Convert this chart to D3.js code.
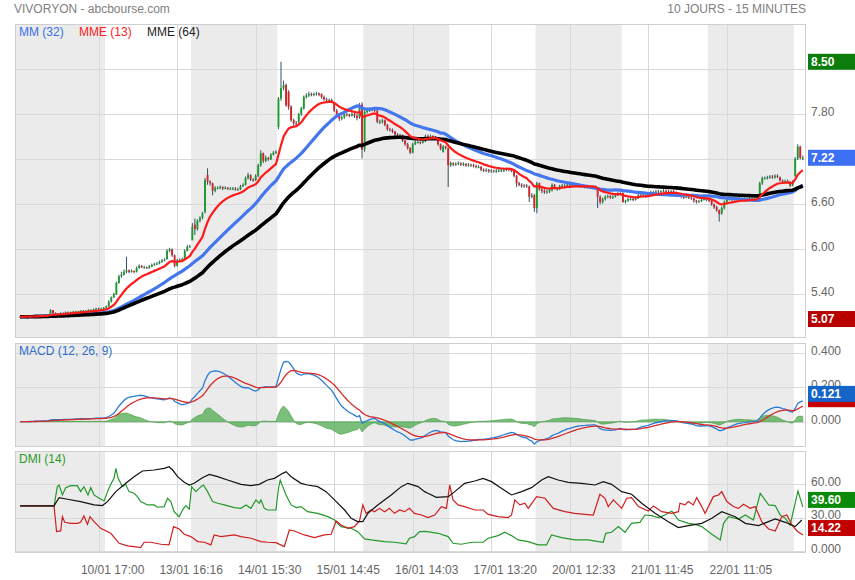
<!DOCTYPE html>
<html><head><meta charset="utf-8">
<script src="https://cdn.jsdelivr.net/npm/d3@7"></script>
<style>body{margin:0;background:#fff;}svg{display:block;font-family:"Liberation Sans",Arial,sans-serif;}</style>
</head><body><svg id="c" width="855" height="580"></svg>
<script>
// ---------- DATA ----------
const opens = [
5.10,5.10,5.10,5.11,5.10,5.11,5.11,5.12,5.11,5.12,5.12,5.12,5.12,5.19,5.15,5.14,5.14,5.15,5.15,5.16,5.16,5.16,5.17,5.17,5.17,5.18,5.18,5.18,5.19,5.19,5.20,5.21,5.20,5.21,
5.22,5.24,5.30,5.36,5.40,5.55,5.64,5.66,5.70,5.72,5.70,5.71,5.70,5.75,5.78,5.76,5.76,5.75,5.77,5.79,5.80,5.81,5.83,5.85,5.87,5.98,6.00,5.92,5.78,5.85,5.86,5.88,5.98,6.03,
6.12,6.33,6.27,6.38,6.42,6.50,6.99,6.90,6.88,6.78,6.82,6.82,6.83,6.81,6.82,6.81,6.81,6.81,6.80,6.80,6.84,6.86,6.95,6.99,6.93,6.92,6.98,7.12,7.28,7.18,7.22,7.20,7.26,7.29,
7.63,8.01,8.15,8.19,8.10,7.90,7.72,7.68,7.70,7.80,7.88,8.03,8.05,8.07,8.06,8.07,8.08,8.07,8.03,8.00,7.99,7.99,7.95,7.85,7.80,7.74,7.76,7.80,7.79,7.78,7.80,7.78,7.76,7.93,
7.33,7.83,7.85,7.86,7.87,7.85,7.70,7.70,7.72,7.66,7.60,7.59,7.57,7.53,7.52,7.52,7.45,7.40,7.35,7.29,7.40,7.43,7.43,7.42,7.44,7.51,7.50,7.51,7.50,7.48,7.40,7.30,7.37,7.35,
7.12,7.15,7.13,7.14,7.15,7.13,7.14,7.12,7.13,7.12,7.11,7.10,7.10,7.06,7.05,7.06,7.04,7.05,7.04,7.05,7.05,7.05,7.06,7.07,7.06,7.05,6.98,6.88,6.86,6.84,6.85,6.84,6.70,6.72,
6.55,6.88,6.80,6.78,6.76,6.77,6.79,6.86,6.82,6.80,6.84,6.85,6.85,6.86,6.84,6.85,6.86,6.85,6.84,6.84,6.83,6.84,6.83,6.83,6.82,6.70,6.63,6.67,6.70,6.71,6.69,6.70,6.72,6.74,
6.75,6.63,6.65,6.67,6.67,6.66,6.68,6.72,6.73,6.72,6.71,6.73,6.76,6.76,6.77,6.76,6.77,6.78,6.77,6.76,6.77,6.76,6.74,6.72,6.70,6.69,6.70,6.69,6.68,6.65,6.63,6.64,6.66,6.67,
6.66,6.65,6.60,6.56,6.52,6.48,6.55,6.63,6.66,6.67,6.66,6.67,6.68,6.67,6.67,6.66,6.67,6.68,6.67,6.68,6.68,6.88,6.95,6.95,6.96,6.97,6.96,6.98,6.96,6.92,6.90,6.91,6.90,6.85,
6.98,7.21,7.37,7.22];
const highs = [
5.11,5.11,5.12,5.12,5.12,5.12,5.13,5.13,5.13,5.13,5.13,5.13,5.20,5.19,5.16,5.15,5.16,5.16,5.17,5.17,5.17,5.18,5.18,5.18,5.19,5.19,5.19,5.20,5.20,5.21,5.22,5.22,5.22,5.23,
5.25,5.32,5.37,5.42,5.57,5.66,5.70,5.73,5.90,5.73,5.73,5.72,5.77,5.80,5.79,5.78,5.77,5.79,5.81,5.82,5.83,5.85,5.87,5.88,6.00,6.02,6.01,5.93,5.87,5.88,5.89,6.00,6.06,6.06,
6.35,6.41,6.40,6.44,6.50,6.95,7.08,6.92,6.89,6.84,6.84,6.85,6.84,6.84,6.83,6.83,6.83,6.83,6.82,6.86,6.88,6.97,7.02,7.00,6.95,7.00,7.14,7.32,7.29,7.25,7.23,7.28,7.31,7.32,
8.03,8.50,8.25,8.21,8.12,7.92,7.74,7.71,7.82,7.90,8.05,8.08,8.10,8.09,8.09,8.10,8.09,8.08,8.05,8.02,8.01,8.01,7.96,7.87,7.82,7.78,7.83,7.82,7.81,7.83,7.82,7.80,7.95,7.96,
7.85,7.88,7.89,7.89,7.88,7.86,7.73,7.74,7.73,7.67,7.62,7.61,7.58,7.55,7.54,7.53,7.46,7.42,7.36,7.42,7.45,7.45,7.44,7.46,7.53,7.53,7.53,7.52,7.51,7.49,7.41,7.39,7.38,7.36,
7.17,7.16,7.16,7.17,7.16,7.16,7.15,7.15,7.14,7.14,7.13,7.12,7.11,7.08,7.08,7.07,7.07,7.06,7.07,7.07,7.07,7.08,7.09,7.09,7.08,7.06,6.99,6.90,6.88,6.87,6.87,6.85,6.75,6.74,
6.90,6.89,6.82,6.80,6.79,6.81,6.88,6.87,6.83,6.86,6.87,6.87,6.88,6.87,6.87,6.88,6.87,6.86,6.86,6.85,6.86,6.85,6.85,6.85,6.83,6.72,6.69,6.72,6.73,6.72,6.72,6.74,6.76,6.76,
6.76,6.66,6.69,6.69,6.69,6.70,6.74,6.75,6.75,6.73,6.75,6.78,6.78,6.79,6.79,6.79,6.80,6.80,6.79,6.79,6.79,6.77,6.75,6.73,6.72,6.72,6.72,6.71,6.69,6.66,6.66,6.68,6.69,6.69,
6.68,6.66,6.61,6.58,6.53,6.57,6.65,6.68,6.69,6.69,6.69,6.70,6.70,6.69,6.69,6.69,6.70,6.70,6.70,6.72,6.90,6.97,6.97,6.98,6.99,6.99,7.00,7.00,6.97,6.93,6.93,6.93,6.91,6.92,
7.23,7.40,7.38,7.25];
const lows = [
5.09,5.09,5.10,5.07,5.09,5.10,5.10,5.10,5.10,5.11,5.11,5.11,5.11,5.14,5.13,5.13,5.13,5.14,5.14,5.15,5.15,5.15,5.16,5.16,5.16,5.17,5.17,5.17,5.18,5.18,5.19,5.19,5.19,5.20,
5.21,5.23,5.29,5.35,5.39,5.54,5.62,5.65,5.68,5.68,5.69,5.68,5.69,5.74,5.75,5.74,5.74,5.74,5.76,5.78,5.79,5.80,5.82,5.84,5.86,5.96,5.90,5.76,5.77,5.84,5.85,5.87,5.97,6.02,
6.12,6.19,6.25,6.36,6.40,6.48,6.86,6.85,6.72,6.76,6.80,6.80,6.79,6.80,6.79,6.79,6.79,6.78,6.78,6.79,6.83,6.85,6.93,6.91,6.90,6.91,6.96,7.10,7.15,7.16,7.18,7.19,7.25,7.27,
7.60,7.98,8.12,7.90,7.86,7.70,7.64,7.64,7.68,7.78,7.86,8.01,8.03,8.04,8.04,8.05,8.04,8.01,7.98,7.97,7.97,7.96,7.83,7.77,7.71,7.72,7.74,7.77,7.76,7.77,7.75,7.72,7.74,7.21,
7.30,7.81,7.83,7.84,7.83,7.68,7.67,7.68,7.64,7.58,7.57,7.55,7.51,7.50,7.49,7.43,7.38,7.33,7.27,7.28,7.39,7.41,7.40,7.41,7.43,7.48,7.49,7.48,7.47,7.38,7.32,7.29,7.33,6.83,
7.10,7.11,7.11,7.12,7.11,7.11,7.10,7.10,7.10,7.09,7.08,7.08,7.04,7.03,7.03,7.02,7.02,7.02,7.02,7.03,7.03,7.03,7.04,7.04,7.03,6.96,6.83,6.84,6.82,6.82,6.82,6.63,6.68,6.50,
6.48,6.78,6.75,6.74,6.74,6.75,6.77,6.80,6.78,6.79,6.83,6.83,6.83,6.82,6.83,6.83,6.83,6.82,6.82,6.81,6.81,6.81,6.81,6.80,6.55,6.60,6.61,6.65,6.68,6.67,6.67,6.69,6.71,6.72,
6.62,6.61,6.63,6.65,6.64,6.65,6.67,6.71,6.70,6.69,6.70,6.72,6.74,6.75,6.74,6.75,6.76,6.75,6.74,6.75,6.74,6.72,6.70,6.68,6.67,6.68,6.67,6.66,6.62,6.61,6.62,6.63,6.65,6.64,
6.63,6.58,6.54,6.50,6.37,6.46,6.53,6.62,6.65,6.64,6.65,6.66,6.65,6.65,6.64,6.65,6.66,6.65,6.66,6.66,6.66,6.86,6.93,6.93,6.94,6.94,6.94,6.95,6.90,6.88,6.89,6.88,6.83,6.84,
6.96,7.19,7.20,7.19];
const closes = [
5.10,5.10,5.11,5.10,5.11,5.11,5.12,5.11,5.12,5.12,5.12,5.12,5.19,5.15,5.14,5.14,5.15,5.15,5.16,5.16,5.16,5.17,5.17,5.17,5.18,5.18,5.18,5.19,5.19,5.20,5.21,5.20,5.21,5.22,
5.24,5.30,5.36,5.40,5.55,5.64,5.66,5.70,5.72,5.70,5.71,5.70,5.75,5.78,5.76,5.76,5.75,5.77,5.79,5.80,5.81,5.83,5.85,5.86,5.98,6.00,5.92,5.78,5.85,5.86,5.87,5.98,6.03,6.04,
6.30,6.27,6.38,6.42,6.48,6.92,6.90,6.88,6.78,6.82,6.82,6.83,6.81,6.82,6.81,6.81,6.81,6.80,6.80,6.84,6.86,6.95,6.99,6.93,6.92,6.98,7.12,7.28,7.18,7.22,7.20,7.26,7.29,7.30,
8.01,8.15,8.19,7.92,7.90,7.72,7.68,7.67,7.80,7.88,8.03,8.05,8.07,8.06,8.07,8.08,8.06,8.03,8.00,7.99,7.99,7.98,7.85,7.80,7.74,7.76,7.80,7.79,7.78,7.80,7.78,7.75,7.92,7.33,
7.83,7.85,7.86,7.87,7.85,7.70,7.70,7.72,7.66,7.60,7.59,7.57,7.53,7.52,7.52,7.45,7.40,7.35,7.29,7.40,7.43,7.43,7.42,7.44,7.51,7.50,7.51,7.50,7.49,7.40,7.34,7.37,7.35,7.12,
7.15,7.13,7.14,7.15,7.13,7.14,7.12,7.13,7.12,7.11,7.10,7.10,7.06,7.05,7.06,7.04,7.05,7.04,7.05,7.05,7.05,7.06,7.07,7.06,7.05,6.98,6.88,6.86,6.84,6.85,6.84,6.70,6.72,6.55,
6.88,6.80,6.78,6.76,6.77,6.79,6.86,6.82,6.80,6.84,6.85,6.85,6.86,6.84,6.85,6.86,6.85,6.84,6.84,6.83,6.84,6.83,6.83,6.82,6.70,6.63,6.67,6.70,6.71,6.69,6.70,6.72,6.74,6.74,
6.63,6.65,6.67,6.67,6.66,6.68,6.72,6.73,6.72,6.71,6.73,6.76,6.76,6.77,6.76,6.77,6.78,6.77,6.76,6.77,6.76,6.74,6.72,6.70,6.69,6.70,6.69,6.68,6.65,6.63,6.64,6.66,6.67,6.66,
6.65,6.60,6.56,6.52,6.47,6.55,6.63,6.66,6.67,6.66,6.67,6.68,6.67,6.67,6.66,6.67,6.68,6.67,6.68,6.70,6.88,6.95,6.95,6.96,6.97,6.96,6.98,6.97,6.92,6.90,6.91,6.90,6.85,6.90,
7.21,7.37,7.22,7.22];

// first bar index of each trading day
const dayStarts = [0,34,68,102,136,170,204,238,272,306];
// time axis
const timeTickIdx = [31,62,93,124,155,186,217,248,279];
const timeTickLabels = ["10/01 17:00","13/01 16:16","14/01 15:30","15/01 14:45","16/01 14:03","17/01 13:20","20/01 12:33","21/01 11:45","22/01 11:05"];
// value axes (grid values, and the ones whose label is not covered by a badge)
const priceGrid = [5.4,6.0,6.6,7.2,7.8,8.4];
const priceLabels = [5.4,6.0,6.6,7.8];
const macdTicks = [0,0.2,0.4];
const dmiTicks = [0,30,60];
const dmiTickLabels = ["0.000","30.00","60.00"];

// DMI(14): [bar index, value]
const dmiPlus = [[0,40.5],[13.4,40.5],[14.7,57.9],[15.4,59.4],[16.7,50.4],[18,57],[20,58.8],[22.6,58.8],[23.9,53.4],[25.2,57.9],[26.8,50.4],[27.9,57],[29.2,50.4],[31.2,47.4],[33.2,45],[34.5,53.4],[35.8,60],[37.1,65.4],[37.8,74.4],[38.7,65.4],[40.4,57.9],[41.7,60],[43,53.4],[45,51.9],[46.3,48.9],[47.6,44.4],[50.3,41.4],[52.9,41.4],[54.2,39.3],[56.9,39.9],[58.2,47.4],[59.5,44.4],[60.8,35.3],[62.8,30.8],[64.1,36.8],[65.4,40.8],[66.8,37.5],[67.7,57.9],[69.4,53.4],[71.4,57.9],[72.4,59.4],[74,53.4],[76,44.4],[78,42.9],[80.6,41.4],[84.6,39],[87.2,38.3],[89.2,41.4],[91.1,38.3],[93.1,45.9],[94.4,42.9],[95.1,45.9],[96.4,38.3],[97.7,36.8],[101,36.8],[102,56.4],[102.7,63.9],[103.7,57.9],[105,50.4],[107,41.4],[109,39],[110.9,39.9],[113.5,35.3],[117.5,33.8],[121.5,30.8],[124.1,27.8],[126.7,21.8],[130.7,20.3],[133.3,17.3],[136,10.7],[138.6,9.8],[143.9,8.3],[147.8,7.7],[152.4,6.2],[153.7,11.3],[155.7,12.8],[157.7,17.3],[160,17.5],[165,15.8],[169,12.8],[170.9,6.8],[174.2,5.9],[178.2,7.7],[182.8,7.7],[184.8,11.3],[188.7,13.7],[191.4,16.7],[194,13.7],[196.6,9.8],[200.6,8.3],[204.5,5.3],[207.8,5.3],[209.8,14.3],[213.8,11.9],[219,9.8],[224.3,9.8],[228.3,8.3],[230.2,7.7],[231.2,15.8],[233.5,16.7],[236.2,21.8],[238.8,16.7],[241.4,24.8],[244.7,25.7],[246.7,32.3],[249.3,31.7],[252,29.9],[254.6,32.3],[257.3,35.9],[259.9,27.8],[263.8,24.8],[266.5,23.9],[269.1,21.8],[273.1,14.9],[276.4,9.8],[277.7,24.8],[279.7,30.8],[283.6,28.7],[286.3,32.3],[289.5,27.8],[292.2,51.9],[295.5,41.4],[298.1,40.8],[300.1,32.3],[302.1,29.3],[304,23.3],[307.1,54],[309,39.6]];
const dmiMinus = [[0,40.5],[13.4,40.5],[14.4,17.3],[16,17.9],[16.7,30.8],[17.6,25.7],[20,24.8],[22.6,24.8],[23.9,25.7],[25.2,31.4],[26.6,23.9],[27.6,30.8],[29.2,26.3],[31.8,20.3],[35.8,15.8],[39.1,6.8],[42.4,4.4],[45,3.8],[47.6,2.9],[49,7.7],[51.6,7.7],[55.6,5.9],[58.8,5.3],[60.6,21.8],[62.8,19.7],[64.8,14.9],[67.4,12.8],[70.1,8.3],[72.7,7.7],[75.3,5.3],[76.6,14.3],[79.3,12.8],[84.6,14.3],[87.2,12.8],[91.1,11.3],[95.1,8.3],[97.7,7.7],[101,7.4],[104.3,3.8],[106.3,18.8],[108.3,17.9],[112.2,14.3],[116.2,11.9],[120.1,14.3],[122.8,14.9],[124.8,26.9],[126.7,23.3],[129.4,20.3],[132,21.8],[134,26.9],[135.3,41.4],[136.6,33.8],[138.6,36.8],[139.9,35.3],[141.9,38.3],[143.9,35.3],[145.8,38.3],[147.8,33.8],[149.8,36.8],[151.8,35.3],[153.7,38.3],[155.7,33.8],[158.4,32.3],[161,29.9],[163.7,32.3],[166.3,39.9],[168.3,38.3],[169.6,59.4],[170.9,45.9],[172.9,41.4],[175.5,39.9],[179.5,36.8],[182.8,36.8],[184.8,32.9],[188.7,30.8],[192.7,29.9],[194,32.3],[195.3,45.9],[197.3,41.4],[199.3,42.9],[200.6,38.3],[203.9,48.9],[207.2,47.4],[210.5,38.3],[215.1,35.3],[219,33.8],[223,32.9],[226.3,32.3],[228.9,51],[230.9,47.4],[232.2,39.9],[234.2,45.9],[237.5,38.3],[239.5,47.4],[241.4,48],[244.1,39.9],[248,35.9],[250,40.5],[253.3,35.3],[257.3,33.8],[259.9,35.3],[260.5,42.9],[262.5,41.4],[263.8,44.4],[265.8,41.4],[267.1,48],[269.1,39.9],[270.4,33.8],[273.7,48.9],[275.7,50.4],[277,53.4],[279,44.4],[281.6,39.9],[283.6,38.3],[285.6,42],[288.2,38.3],[290.2,39.9],[292.8,26.3],[295.5,19.7],[298.1,17.9],[300.7,30.8],[302.7,32.3],[304.7,23.3],[306.7,17.9],[309,14.22]];
const dmiAdx = [[0,40.5],[13.4,40.5],[15.4,48],[18.7,46.5],[23.9,44.4],[29.2,41.4],[32.5,40.8],[34.5,44.4],[37.8,53.4],[41.7,60.9],[45,66.9],[48.3,72],[52.9,72.9],[56.9,74.4],[58.8,75.9],[60.2,72.9],[62.2,66.9],[64.8,61.8],[66.8,59.4],[68.7,60.9],[72,66],[74.7,69],[78,66.9],[81.9,63.9],[87.2,60],[91.1,58.8],[94.4,60],[97.7,63.9],[100.4,65.4],[103.7,69.9],[105,71.4],[107,66.9],[110.9,60.9],[113.5,59.4],[117.5,57.9],[120.8,53.4],[124.1,45.9],[128.1,36.8],[130.7,29.3],[133.3,26.3],[135.3,26.3],[137.3,33.8],[141.2,41.4],[146.5,50.4],[150.5,57.9],[153.1,60.9],[157.1,57.9],[159.7,53.4],[161,51.9],[164.3,48.3],[169,48.9],[171.6,53.4],[175.5,60.9],[179.5,63],[182.8,65.4],[186.1,62.4],[190,56.4],[194,50.4],[198,53.4],[201.9,57],[205.9,63.9],[208.5,66.9],[212.4,63.9],[216.4,61.8],[221.7,60.9],[227,59.4],[230.2,62.4],[233.5,60],[237.5,53.4],[241.4,51],[245.4,42.9],[250.7,33.8],[255.9,26.3],[259.9,20.9],[263.8,22.7],[269.1,24.8],[273.1,29.3],[277,35.3],[282.3,30.8],[286.3,24.8],[291.5,22.7],[298.1,28.7],[302.1,25.7],[306,21.8],[308.6,27.8]];

// ---------- INDICATORS (derived from closes) ----------
function ema(arr, n){ const a=2/(n+1); const out=[]; arr.forEach((v,i)=>out.push(i===0?v:a*v+(1-a)*out[i-1])); return out; }
function sma(arr, n){ return arr.map((v,i)=>d3.mean(arr.slice(Math.max(0,i-n+1), i+1))); }
const mm32 = sma(closes,32), mme13 = ema(closes,13), mme64 = ema(closes,64);
const e12 = ema(closes,12), e26 = ema(closes,26);
const macd = e12.map((v,i)=>v-e26[i]);
const signal = ema(macd,9);
const hist = macd.map((v,i)=>v-signal[i]);

// ---------- LAYOUT ----------
const svg = d3.select("#c");
const L=15, R=806;
const P = {main:[24,338], macd:[343,447], dmi:[451,553]};
const n = closes.length;
const x = d3.scaleLinear().domain([0,n-1]).range([20.1,802.8]);
const yMain = d3.scaleLinear().domain([4.817,9.004]).range([P.main[1],P.main[0]]);
const yMacd = d3.scaleLinear().domain([-0.147,0.4576]).range([P.macd[1],P.macd[0]]);
const yDmi = d3.scaleLinear().domain([-1.99,90.07]).range([P.dmi[1],P.dmi[0]]);

const defs = svg.append("defs");
Object.entries(P).forEach(([k,[t,b]])=>{
  defs.append("clipPath").attr("id","clip-"+k).append("rect").attr("x",L).attr("y",t).attr("width",R-L).attr("height",b-t);
});

function panel(key, yScale, ticks){
  const [t,b]=P[key];
  const g = svg.append("g");
  g.append("rect").attr("x",L).attr("y",t).attr("width",R-L).attr("height",b-t).attr("fill","#fff");
  const bands = g.append("g");
  dayStarts.forEach((s,d)=>{
    if(d%2!==0) return;
    const end = d+1<dayStarts.length ? dayStarts[d+1] : n;
    const x0 = d===0 ? L : x(s-0.5), x1 = Math.min(R, x(end-0.5));
    bands.append("rect").attr("x",x0).attr("y",t).attr("width",x1-x0).attr("height",b-t).attr("fill","#ebebeb");
  });
  g.selectAll("line.h").data(ticks).join("line").attr("x1",L).attr("x2",R)
    .attr("y1",d=>Math.round(yScale(d))+0.5).attr("y2",d=>Math.round(yScale(d))+0.5).attr("stroke","#d9d9d9");
  g.selectAll("line.v").data(timeTickIdx).join("line").attr("y1",t).attr("y2",b)
    .attr("x1",d=>Math.round(x(d))+0.5).attr("x2",d=>Math.round(x(d))+0.5).attr("stroke","#d9d9d9");
  g.append("rect").attr("x",L+0.5).attr("y",t+0.5).attr("width",R-L-1).attr("height",b-t-1)
    .attr("fill","none").attr("stroke","#cfcfcf");
  return svg.append("g").attr("clip-path","url(#clip-"+key+")");
}

// ---------- MAIN PANEL ----------
const gm = panel("main", yMain, priceGrid);
const idx = d3.range(n);
gm.selectAll("line.wick").data(idx).join("line")
  .attr("x1",i=>x(i)).attr("x2",i=>x(i)).attr("y1",i=>yMain(highs[i])).attr("y2",i=>yMain(lows[i]))
  .attr("stroke","#1f3d50").attr("stroke-width",0.9);
gm.selectAll("rect.body").data(idx).join("rect")
  .attr("x",i=>x(i)-0.95).attr("width",1.9)
  .attr("y",i=>yMain(Math.max(opens[i],closes[i])))
  .attr("height",i=>Math.max(1,Math.abs(yMain(opens[i])-yMain(closes[i]))))
  .attr("fill",i=>closes[i]>=opens[i]?"#1c9a2e":"#d3232b");
const lineP = d3.line().x((d,i)=>x(i)).y(d=>yMain(d));
gm.append("path").attr("d",lineP(mm32)).attr("fill","none").attr("stroke","#4477ee").attr("stroke-width",3.2).attr("stroke-linejoin","round");
gm.append("path").attr("d",lineP(mme64)).attr("fill","none").attr("stroke","#000").attr("stroke-width",3.6).attr("stroke-linejoin","round");
gm.append("path").attr("d",lineP(mme13)).attr("fill","none").attr("stroke","#ff1a1a").attr("stroke-width",2.2).attr("stroke-linejoin","round");

// ---------- MACD PANEL ----------
const gc = panel("macd", yMacd, macdTicks);
gc.append("path").attr("d", d3.area().x((d,i)=>x(i)).y0(yMacd(0)).y1(d=>yMacd(d))(hist))
  .attr("fill","#4ea94e").attr("fill-opacity",0.75).attr("stroke","#3f9b3f").attr("stroke-width",0.6);
const lineC = d3.line().x((d,i)=>x(i)).y(d=>yMacd(d));
gc.append("path").attr("d",lineC(macd)).attr("fill","none").attr("stroke","#2b7bd6").attr("stroke-width",1.3);
gc.append("path").attr("d",lineC(signal)).attr("fill","none").attr("stroke","#d42b2b").attr("stroke-width",1.3);

// ---------- DMI PANEL ----------
const gd = panel("dmi", yDmi, dmiTicks);
const lineD = d3.line().x(d=>x(d[0])).y(d=>yDmi(d[1]));
gd.append("path").attr("d",lineD(dmiPlus)).attr("fill","none").attr("stroke","#23992a").attr("stroke-width",1.2);
gd.append("path").attr("d",lineD(dmiMinus)).attr("fill","none").attr("stroke","#d01f1f").attr("stroke-width",1.2);
gd.append("path").attr("d",lineD(dmiAdx)).attr("fill","none").attr("stroke","#111").attr("stroke-width",1.2);

// ---------- AXES ----------
function yAxis(scale, ticks, fmt){
  const g = svg.append("g").attr("transform",`translate(${R},0)`)
    .call(d3.axisRight(scale).tickValues(ticks).tickFormat(fmt).tickSize(0).tickPadding(5));
  g.select(".domain").remove();
  g.selectAll("text").attr("y",-2.5).attr("fill","#666").style("font-size","12px").style("font-family","'Liberation Sans',Arial,sans-serif");
}
yAxis(yMain, priceLabels, d3.format(".2f"));
yAxis(yMacd, macdTicks, d3.format(".3f"));
yAxis(yDmi, dmiTicks, (d,i)=>dmiTickLabels[i]);

const xa = svg.append("g").attr("transform",`translate(0,${P.dmi[1]})`)
  .call(d3.axisBottom(x).tickValues(timeTickIdx).tickFormat((d,i)=>timeTickLabels[i]).tickSize(0).tickPadding(12.5));
xa.select(".domain").remove();
xa.selectAll("text").attr("x",13.5).attr("fill","#666").style("font-size","12px").style("font-family","'Liberation Sans',Arial,sans-serif");

// ---------- BADGES ----------
function badge(y, text, color, showText){
  svg.append("rect").attr("x",808).attr("y",y-8).attr("width",47).attr("height",16).attr("fill",color);
  if(showText!==false) svg.append("text").attr("x",811).attr("y",y).attr("dy","0.35em").text(text)
    .attr("fill","#fff").style("font-size","12px").style("font-weight","bold");
}
const last = n-1;
badge(yMain(d3.max(highs)), d3.format(".2f")(d3.max(highs)), "#0b7d0b");
badge(yMain(closes[last]), d3.format(".2f")(closes[last]), "#3c6ff3");
badge(yMain(d3.min(lows)), d3.format(".2f")(d3.min(lows)), "#b80000");
badge(yMacd(signal[last])-7, d3.format(".3f")(signal[last]), "#c40000", false);
badge(yMacd(macd[last])-7, d3.format(".3f")(macd[last]), "#1565c8");
const lp = dmiPlus[dmiPlus.length-1][1], lm = dmiMinus[dmiMinus.length-1][1];
badge(yDmi(lp)-7, d3.format(".2f")(lp), "#0a8a0a");
badge(yDmi(lm)-7, d3.format(".2f")(lm), "#c00000");

// ---------- TITLES ----------
svg.append("text").attr("x",14).attr("y",13).text("VIVORYON - abcbourse.com").attr("fill","#808080").style("font-size","12px");
svg.append("text").attr("x",R).attr("y",13).attr("text-anchor","end").text("10 JOURS - 15 MINUTES").attr("fill","#808080").style("font-size","12px");
const leg = [["MM (32)","#3a6fe8",19],["MME (13)","#ff2020",79],["MME (64)","#222",147]];
leg.forEach(([t,c,xx])=>svg.append("text").attr("x",xx).attr("y",36).text(t).attr("fill",c).style("font-size","12px"));
svg.append("text").attr("x",19).attr("y",355).text("MACD (12, 26, 9)").attr("fill","#2a6fc9").style("font-size","12px");
svg.append("text").attr("x",19).attr("y",463).text("DMI (14)").attr("fill","#2a9a2a").style("font-size","12px");
</script></body></html>
